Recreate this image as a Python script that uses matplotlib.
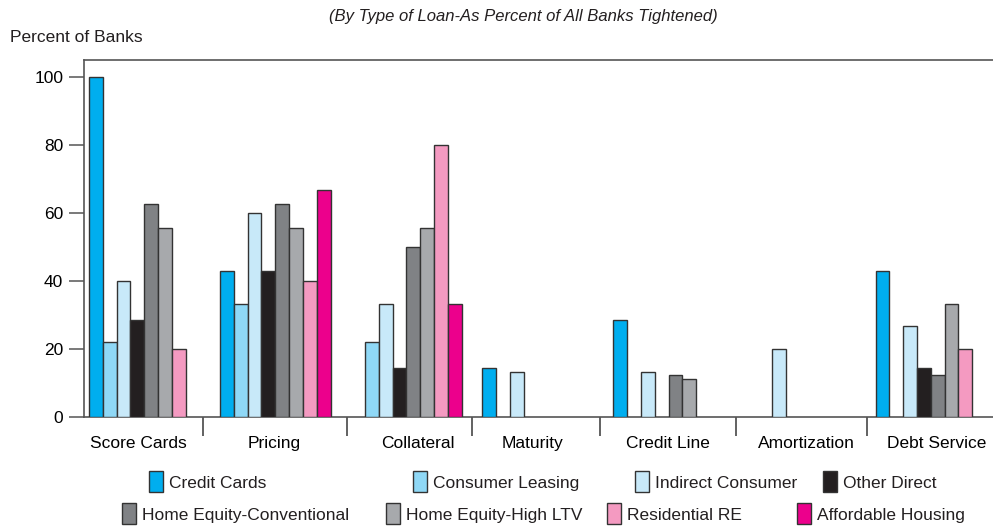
import numpy as np
import matplotlib.pyplot as plt
from matplotlib.patches import Rectangle

plt.rcParams['font.family'] = ['Liberation Sans', 'DejaVu Sans']

categories = ['Score Cards', 'Pricing', 'Collateral', 'Maturity',
              'Credit Line', 'Amortization', 'Debt Service']
series = ['Credit Cards', 'Consumer Leasing', 'Indirect Consumer', 'Other Direct',
          'Home Equity-Conventional', 'Home Equity-High LTV', 'Residential RE',
          'Affordable Housing']

credit_cards = [100, 42.9, 0, 14.3, 28.6, 0, 42.9]
consumer_leasing = [22.2, 33.3, 22.2, 0, 0, 0, 0]
indirect_consumer = [40, 60, 33.3, 13.3, 13.3, 20, 26.7]
other_direct = [28.6, 42.9, 14.3, 0, 0, 0, 14.3]
home_equity_conv = [62.5, 62.5, 50, 0, 12.5, 0, 12.5]
home_equity_ltv = [55.6, 55.6, 55.6, 0, 11.1, 0, 33.3]
residential_re = [20, 40, 80, 0, 0, 0, 20]
affordable_housing = [0, 66.7, 33.3, 0, 0, 0, 0]

values = [credit_cards, consumer_leasing, indirect_consumer, other_direct,
          home_equity_conv, home_equity_ltv, residential_re, affordable_housing]
colors = ['#00aeef', '#8fd8f6', '#c8e9f9', '#231f20',
          '#808285', '#a7a9ac', '#f49ac1', '#ec008c']

W, H = 993, 527
fig = plt.figure(figsize=(W / 100, H / 100), dpi=100)
ax = fig.add_axes([84 / W, 1 - 417 / H, 1 - 84 / W, 357 / H])

group_step = 9.5
x0 = np.arange(len(categories)) * group_step
for j, (vals, c) in enumerate(zip(values, colors)):
    vals = np.array(vals)
    mask = vals > 0
    ax.bar(x0[mask] + j, vals[mask], width=1, align='edge', color=c,
           edgecolor='#333333', linewidth=1.0, zorder=3)

ax.set_xlim(-0.36, 65.5)
ax.set_ylim(0, 105)
ax.set_yticks(range(0, 101, 20))
ax.tick_params(axis='y', direction='out', length=11, width=1.1, color='#555555',
               labelsize=12.5, pad=4)

# category labels (slightly off-centre as in the original) and group separators
label_shift = np.array([-0.45, -0.1, 0.8, -0.4, -0.05, 0.45, 0.45])
ax.set_xticks(x0 + 4 + label_shift)
ax.set_xticklabels(categories, fontsize=12.5)
ax.tick_params(axis='x', which='major', length=0, pad=14)
sep_shift = np.array([-0.5, 0.45, 0.0, -0.25, 0.15, 0.15])
ax.set_xticks(x0[:-1] + 8.75 + sep_shift, minor=True)
ax.tick_params(axis='x', which='minor', direction='out', length=14, width=1.3,
               color='#555555')

for s in ['left', 'top', 'bottom']:
    ax.spines[s].set_color('#555555')
    ax.spines[s].set_linewidth(1.2)
ax.spines['right'].set_visible(False)

fig.text(523 / W, 1 - 17 / H, '(By Type of Loan-As Percent of All Banks Tightened)',
         ha='center', va='center', fontsize=12, style='italic', color='#231f20')
fig.text(10 / W, 1 - 38 / H, 'Percent of Banks', ha='left', va='center',
         fontsize=12.5, color='#231f20')

# legend drawn by hand, two rows of four
leg_x = [[149, 413, 635, 823], [122, 386, 607, 797]]
leg_y = [482, 514]
for r in range(2):
    for k in range(4):
        idx = r * 4 + k
        px = leg_x[r][k]
        py = leg_y[r]
        fig.add_artist(Rectangle((px / W, 1 - (py + 10) / H), 14 / W, 21 / H,
                                 transform=fig.transFigure, facecolor=colors[idx],
                                 edgecolor='#333333', linewidth=1.0))
        fig.text((px + 20) / W, 1 - (py + 6) / H, series[idx], ha='left',
                 va='baseline', fontsize=12.5, color='#231f20')

fig.savefig('out.png', dpi=100)
